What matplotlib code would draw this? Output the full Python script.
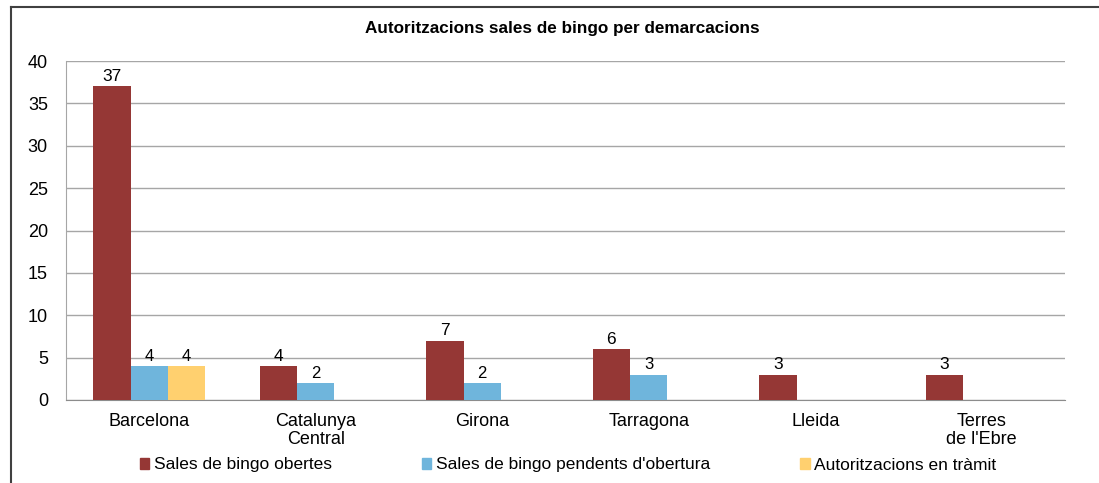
import numpy as np
import matplotlib
matplotlib.use("Agg")
import matplotlib.pyplot as plt
from matplotlib.lines import Line2D

plt.rcParams['font.family'] = ['Liberation Sans', 'DejaVu Sans']

# Data
categories = ["Barcelona", "Catalunya\nCentral", "Girona", "Tarragona", "Lleida", "Terres\nde l'Ebre"]
obertes = [37, 4, 7, 6, 3, 3]
pendents = [4, 2, 2, 3, 0, 0]
tramit = [4, 0, 0, 0, 0, 0]
series_names = ["Sales de bingo obertes", "Sales de bingo pendents d'obertura", "Autoritzacions en tràmit"]
colors = ["#953735", "#6FB5DC", "#FFD06F"]

fig = plt.figure(figsize=(10.99, 4.83), dpi=100)
ax = fig.add_axes([66 / 1099, 83 / 483, 999 / 1099, 339 / 483])

x = np.arange(len(categories))
width = 0.225
for i, (vals, name, col) in enumerate(zip([obertes, pendents, tramit], series_names, colors)):
    vals = np.array(vals, dtype=float)
    pos = x + (i - 1) * width
    mask = vals > 0
    ax.bar(pos[mask], vals[mask], width, color=col, label=name, zorder=3)
    for p, v in zip(pos[mask], vals[mask]):
        ax.text(p, v + 0.3, f"{int(v)}", ha="center", va="bottom",
                fontsize=12.5 if i == 0 else 12, color="#000000", zorder=4)

ax.set_xlim(-0.5, len(categories) - 0.5)
ax.set_ylim(0, 40)
ax.set_yticks(np.arange(0, 41, 5))
ax.tick_params(axis="y", length=0, labelsize=13, pad=13)
ax.tick_params(axis="x", length=0, labelsize=13, pad=9)
ax.set_xticks(x)
ax.set_xticklabels(categories, linespacing=1.15)
ax.grid(axis="y", color="#A6A6A6", linewidth=1, zorder=0)
for s in ["top", "right"]:
    ax.spines[s].set_visible(False)
ax.spines["left"].set_color("#A6A6A6")
ax.spines["bottom"].set_color("#8C8C8C")
ax.set_axisbelow(True)

fig.text(562 / 1099, 1 - 28 / 483, "Autoritzacions sales de bingo per demarcacions",
         ha="center", va="center", fontsize=12.3, fontweight="bold")

handles = [plt.Rectangle((0, 0), 1, 1, color=c) for c in colors]
fig.legend(handles, series_names, loc="center", bbox_to_anchor=(568 / 1099, 1 - 465 / 483),
           ncol=3, frameon=False, fontsize=12.5, handlelength=0.55, handleheight=0.55,
           handletextpad=0.25, columnspacing=5.2)

# outer chart border (top and left visible)
fig.add_artist(Line2D([11 / 1099, 1.0], [1 - 7 / 483, 1 - 7 / 483], color="#404040", lw=1.5,
                      transform=fig.transFigure))
fig.add_artist(Line2D([11 / 1099, 11 / 1099], [0, 1 - 7 / 483], color="#404040", lw=1.5,
                      transform=fig.transFigure))

fig.savefig("out.png", dpi=100)
